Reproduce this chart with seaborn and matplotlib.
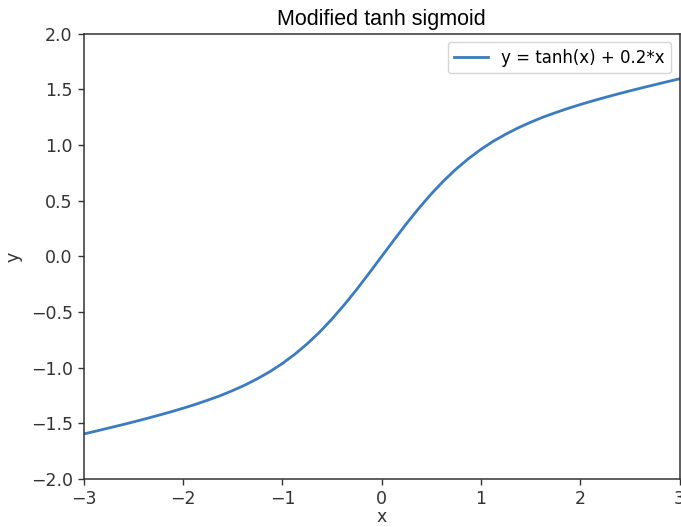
import matplotlib
matplotlib.use("Agg")
import matplotlib.pyplot as plt
import seaborn as sns
import pandas as pd

# values
x_vals = [-3.0, -2.875, -2.75, -2.625, -2.5, -2.375, -2.25, -2.125, -2.0, -1.875,
          -1.75, -1.625, -1.5, -1.375, -1.25, -1.125, -1.0, -0.875, -0.75, -0.625,
          -0.5, -0.375, -0.25, -0.125, 0.0, 0.125, 0.25, 0.375, 0.5, 0.625,
          0.75, 0.875, 1.0, 1.125, 1.25, 1.375, 1.5, 1.625, 1.75, 1.875,
          2.0, 2.125, 2.25, 2.375, 2.5, 2.625, 2.75, 2.875, 3.0]
y_vals = [-1.595, -1.569, -1.542, -1.515, -1.487, -1.458, -1.428, -1.397, -1.364, -1.329,
          -1.291, -1.251, -1.205, -1.155, -1.098, -1.035, -0.962, -0.879, -0.785, -0.680,
          -0.562, -0.433, -0.295, -0.149, 0.0, 0.149, 0.295, 0.433, 0.562, 0.680,
          0.785, 0.879, 0.962, 1.035, 1.098, 1.155, 1.205, 1.251, 1.291, 1.329,
          1.364, 1.397, 1.428, 1.458, 1.487, 1.515, 1.542, 1.569, 1.595]
x_ticks = [-3, -2, -1, 0, 1, 2, 3]
y_ticks = [-2.0, -1.5, -1.0, -0.5, 0.0, 0.5, 1.0, 1.5, 2.0]

df = pd.DataFrame({"x": x_vals, "y": y_vals})

fig = plt.figure(figsize=(6.81, 5.27), dpi=100)
ax = fig.add_axes([0.123, 0.091, 0.875, 0.845])

sns.lineplot(data=df, x="x", y="y", ax=ax, color="#3b7cc0", linewidth=2.0,
             label="y = tanh(x) + 0.2*x")

ax.set_xlim(-3, 3)
ax.set_ylim(-2, 2)
ax.set_xticks(x_ticks)
ax.set_yticks(y_ticks)
ax.tick_params(labelsize=12.5, length=4.5, width=1.0, colors="#333333")
for s in ax.spines.values():
    s.set_linewidth(1.1)
    s.set_color("#333333")
ax.set_title("Modified tanh sigmoid", fontsize=15.5, family="Liberation Sans", pad=6)
ax.set_xlabel("x", fontsize=12.5, labelpad=0, color="#333333")
ax.set_ylabel("y", fontsize=12.5, labelpad=6, color="#333333")
ax.legend(loc="upper right", fontsize=12)

fig.savefig("out.png", dpi=100)
